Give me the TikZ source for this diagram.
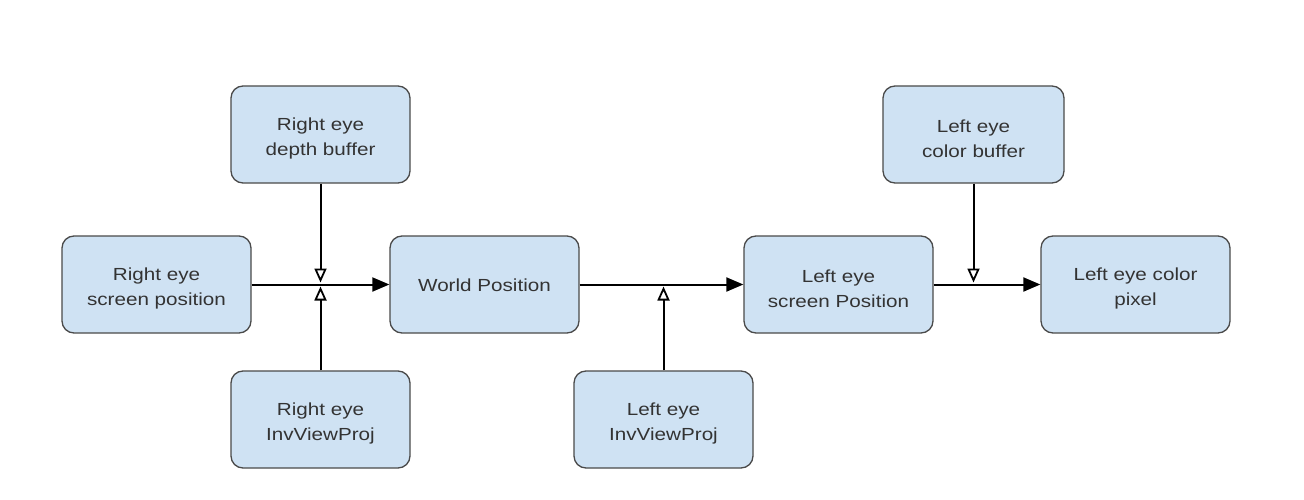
\documentclass[tikz,border=0pt]{standalone}
\usepackage{fontspec}
\setmainfont{Liberation Sans}[FakeStretch=1.18]
\usetikzlibrary{arrows.meta}
\definecolor{boxfill}{HTML}{CFE2F3}
\definecolor{boxline}{HTML}{4A4A4A}
\definecolor{txt}{HTML}{333333}
\tikzset{
  blk/.style={draw=boxline, line width=1.3pt, fill=boxfill, rounded corners=12pt,
    minimum width=179pt, minimum height=97pt, inner sep=0pt},
  wide/.style={blk, minimum width=189pt},
  lbl/.style={align=center, inner sep=0pt, font=\fontsize{17.5}{25}\selectfont, text=txt},
  flow/.style={line width=2pt, -{Triangle[length=17pt,width=14pt]}},
  feed/.style={line width=2pt, -{Triangle[open,length=14pt,width=12pt,line width=1.8pt]}, shorten >=2pt},
}
\begin{document}
\begin{tikzpicture}[x=1pt,y=-1pt]
\useasboundingbox (0,0) rectangle (1304,500);
\node[blk]  (rdb) at (320.5,134.5) {};
\node[wide] (rsp) at (156.5,284.5) {};
\node[blk]  (rivp) at (320.5,419.5) {};
\node[wide] (wp)  at (484.5,284.5) {};
\node[blk]  (livp) at (663.5,419.5) {};
\node[wide] (lsp) at (838.5,284.5) {};
\node[blk, minimum width=181pt] (lcb) at (973.5,134.5) {};
\node[wide] (lcp) at (1135.5,284.5) {};
\node[lbl] (rdbT)  at ([yshift=-4pt]rdb.center)  {Right eye\\depth buffer};
\node[lbl] (rspT)  at ([yshift=-4pt]rsp.center)  {Right eye\\screen position};
\node[lbl] (rivpT) at ([yshift=-4pt]rivp.center) {Right eye\\InvViewProj};
\node[lbl] (wpT)   at ([yshift=-1pt]wp.center)   {World Position};
\node[lbl] (livpT) at ([yshift=-4pt]livp.center) {Left eye\\InvViewProj};
\node[lbl] (lspT)  at ([yshift=-4pt]lsp.center)  {Left eye\\screen Position};
\node[lbl] (lcbT)  at ([yshift=-4pt]lcb.center)  {Left eye\\color buffer};
\node[lbl] (lcpT)  at ([yshift=-4pt]lcp.center)  {Left eye color\\pixel};
\coordinate (j1) at (rdb.south |- rsp.east);
\coordinate (j2) at (livp.north |- wp.east);
\coordinate (j3) at (lcb.south |- lsp.east);
\draw[flow] (rsp.east) -- (wp.west);
\draw[flow] (wp.east) -- (lsp.west);
\draw[flow] (lsp.east) -- (lcp.west);
\draw[feed] (rdb.south) -- (j1);
\draw[feed] (rivp.north) -- (j1);
\draw[feed] (livp.north) -- (j2);
\draw[feed] (lcb.south) -- (j3);
\end{tikzpicture}
\end{document}
